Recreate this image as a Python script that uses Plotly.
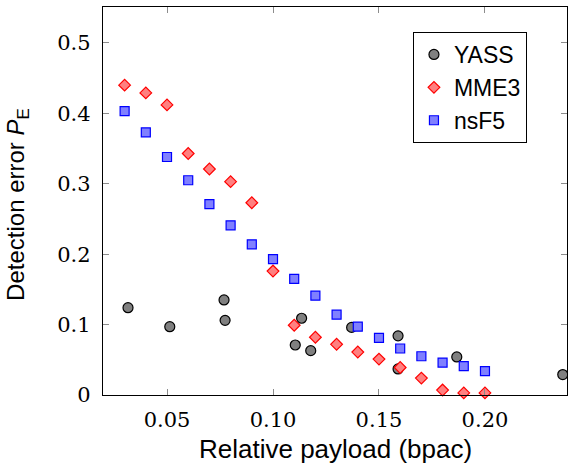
import plotly.graph_objects as go

# Relative payload (bpac) and detection error for each steganographic scheme
yass_x = [0.0316, 0.0513, 0.0769, 0.0774, 0.1105, 0.1135, 0.1178, 0.1371, 0.1590, 0.1590, 0.1867, 0.2367]
yass_y = [0.124, 0.097, 0.135, 0.106, 0.071, 0.109, 0.063, 0.096, 0.084, 0.037, 0.054, 0.029]

mme3_x = [0.03, 0.04, 0.05, 0.06, 0.07, 0.08, 0.09, 0.10, 0.11, 0.12, 0.13, 0.14, 0.15, 0.16, 0.17, 0.18, 0.19, 0.20]
mme3_y = [0.440, 0.429, 0.412, 0.343, 0.321, 0.303, 0.273, 0.176, 0.099, 0.082, 0.072, 0.061, 0.051, 0.039, 0.024, 0.007, 0.003, 0.003]

nsf5_x = [0.03, 0.04, 0.05, 0.06, 0.07, 0.08, 0.09, 0.10, 0.11, 0.12, 0.13, 0.14, 0.15, 0.16, 0.17, 0.18, 0.19, 0.20]
nsf5_y = [0.403, 0.373, 0.338, 0.305, 0.271, 0.241, 0.214, 0.193, 0.165, 0.141, 0.114, 0.097, 0.081, 0.066, 0.055, 0.046, 0.041, 0.034]

x_ticks = [0.05, 0.10, 0.15, 0.20]
x_tick_labels = ["0.05", "0.10", "0.15", "0.20"]
y_ticks = [0, 0.1, 0.2, 0.3, 0.4, 0.5]
y_tick_labels = ["0", "0.1", "0.2", "0.3", "0.4", "0.5"]

x_title = "Relative payload (bpac)"
y_title = "Detection error <i>P</i><sub>E</sub>"

SERIF = "DejaVu Serif"
SANS = "Liberation Sans"

fig = go.Figure()
fig.add_trace(go.Scatter(
    x=yass_x, y=yass_y, mode="markers", name="YASS", cliponaxis=False,
    marker=dict(symbol="circle", size=10, color="#808080",
                line=dict(color="black", width=1.2)),
))
fig.add_trace(go.Scatter(
    x=mme3_x, y=mme3_y, mode="markers", name="MME3", cliponaxis=False,
    marker=dict(symbol="diamond", size=9, color="#ff8080",
                line=dict(color="#ff0000", width=1.2)),
))
fig.add_trace(go.Scatter(
    x=nsf5_x, y=nsf5_y, mode="markers", name="nsF5", cliponaxis=False,
    marker=dict(symbol="square", size=9, color="#8080ff",
                line=dict(color="#0000ff", width=1.2)),
))

fig.update_layout(
    width=568, height=464,
    margin=dict(l=103, r=1, t=7, b=69),
    paper_bgcolor="white", plot_bgcolor="white",
    font=dict(family=SANS, color="black"),
    showlegend=True,
    legend=dict(
        x=0.668, y=0.9356, xanchor="left", yanchor="top",
        bgcolor="white", bordercolor="black", borderwidth=1,
        font=dict(family=SANS, size=23, color="black"),
        itemwidth=30, tracegroupgap=0,
    ),
)

for ax in (fig.layout.xaxis, fig.layout.yaxis):
    ax.showline = True
    ax.linecolor = "black"
    ax.linewidth = 1.3
    ax.mirror = "allticks"
    ax.ticks = "inside"
    ax.ticklen = 6
    ax.tickcolor = "#8c8c8c"
    ax.tickwidth = 1
    ax.showgrid = False
    ax.zeroline = False
    ax.tickfont = dict(family=SERIF, size=21, color="black")

fig.update_xaxes(range=[0.0198, 0.2387], tickvals=x_ticks, ticktext=x_tick_labels,
                 ticklabelstandoff=6)
fig.update_yaxes(range=[0, 0.551], tickvals=y_ticks, ticktext=y_tick_labels,
                 ticklabelstandoff=7)

# Axis titles placed as annotations for exact positioning
fig.add_annotation(text=x_title, xref="paper", yref="paper", x=0.5, y=-0.139,
                   xanchor="center", yanchor="middle", showarrow=False,
                   font=dict(family=SANS, size=26, color="black"))
fig.add_annotation(text=y_title, xref="paper", yref="paper", x=0, xshift=-85, y=0.49,
                   xanchor="center", yanchor="middle", textangle=-90, showarrow=False,
                   font=dict(family=SANS, size=24, color="black"))

fig.write_html("out.html")
